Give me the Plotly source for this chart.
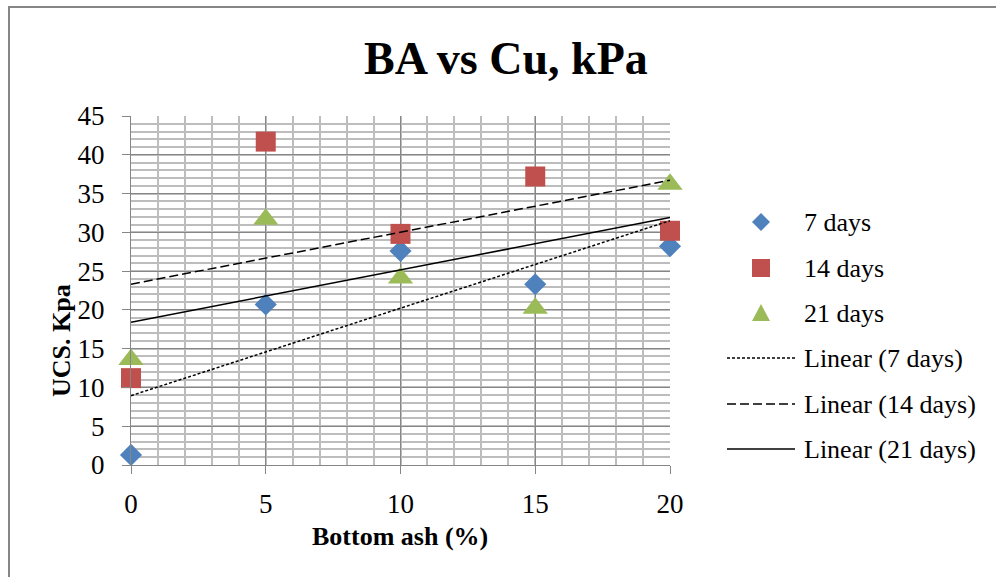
import numpy as np
import plotly.graph_objects as go

# ---- data ----
bottom_ash = [0, 5, 10, 15, 20]
ucs_7 = [1.3, 20.7, 27.6, 23.3, 28.2]
ucs_14 = [11.2, 41.7, 29.8, 37.2, 30.2]
ucs_21 = [13.6, 31.7, 24.1, 20.2, 36.2]
series_names = ["7 days", "14 days", "21 days"]
trend_names = ["Linear (7 days)", "Linear (14 days)", "Linear (21 days)"]
x_ticks = [0, 5, 10, 15, 20]
y_ticks = [0, 5, 10, 15, 20, 25, 30, 35, 40, 45]

FONT = "Liberation Serif"
colors = ["#4F81BD", "#C0504D", "#9BBB59"]
symbols = ["diamond", "square", "triangle-up"]
sizes = [17, 20, 22]
dashes = ["3px,2px", "9px,4px", "solid"]

fig = go.Figure()
all_series = [ucs_7, ucs_14, ucs_21]
for i, ys in enumerate(all_series):
    fig.add_trace(go.Scatter(
        x=bottom_ash, y=ys, mode="markers", name=series_names[i],
        marker=dict(symbol=symbols[i], size=sizes[i], color=colors[i],
                    line=dict(width=0)),
        cliponaxis=False, showlegend=False,
    ))
xs = np.array(bottom_ash, dtype=float)
for i, ys in enumerate(all_series):
    m, b = np.polyfit(xs, np.array(ys, dtype=float), 1)
    xl = np.array([min(bottom_ash), max(bottom_ash)], dtype=float)
    fig.add_trace(go.Scatter(
        x=xl, y=m * xl + b, mode="lines", name=trend_names[i],
        line=dict(color="black", width=1.5, dash=dashes[i]),
        showlegend=False,
    ))

L, R, T, B = 131, 670, 116, 465
W, H = 996, 577

def px_x(p):
    return (p - L) / (R - L)

def px_y(p):
    return (B - p) / (B - T)

axis_common = dict(
    showline=True, linecolor="#868686", linewidth=1,
    ticks="outside", ticklen=8, tickcolor="#868686", tickwidth=1,
    showgrid=True, gridcolor="#868686", gridwidth=1,
    zeroline=False,
    tickfont=dict(family=FONT, size=27, color="black"),
    minor=dict(dtick=1, showgrid=True, gridcolor="#bdbdbd", gridwidth=1.5, ticks=""),
)

annotations = [
    dict(text="<b>BA vs Cu, kPa</b>", xref="paper", yref="paper",
         x=px_x(506), y=px_y(58), xanchor="center", yanchor="middle",
         showarrow=False, font=dict(family=FONT, size=46, color="black")),
    dict(text="<b>Bottom ash (%)</b>", xref="paper", yref="paper",
         x=px_x(400), y=px_y(536), xanchor="center", yanchor="middle",
         showarrow=False, font=dict(family=FONT, size=26, color="black")),
    dict(text="<b>UCS. Kpa</b>", xref="paper", yref="paper",
         x=px_x(61), y=px_y(341), xanchor="center", yanchor="middle",
         textangle=-90, showarrow=False,
         font=dict(family=FONT, size=26, color="black")),
]
shapes = [
    dict(type="rect", xref="paper", yref="paper",
         x0=px_x(9), x1=px_x(1100), y0=px_y(700), y1=px_y(7),
         line=dict(color="#868686", width=2), fillcolor="rgba(0,0,0,0)",
         layer="below"),
]

# ---- custom legend (glyph positions in pixels) ----
leg_rows = [222, 268, 313, 358, 404, 449]
leg_text_x = 802
glyph_cx = 761
labels = series_names + trend_names
for k, yc in enumerate(leg_rows):
    annotations.append(dict(
        text=labels[k], xref="paper", yref="paper",
        x=px_x(leg_text_x), y=px_y(yc), xanchor="left", yanchor="middle",
        showarrow=False, font=dict(family=FONT, size=26, color="black")))

def path_px(points):
    return "M" + " L".join(f"{px_x(a):.5f},{px_y(b):.5f}" for a, b in points) + " Z"

yc = leg_rows[0]
shapes.append(dict(type="path", xref="paper", yref="paper",
                   path=path_px([(glyph_cx - 9, yc), (glyph_cx, yc - 9),
                                 (glyph_cx + 9, yc), (glyph_cx, yc + 9)]),
                   fillcolor=colors[0], line=dict(width=0)))
yc = leg_rows[1]
shapes.append(dict(type="path", xref="paper", yref="paper",
                   path=path_px([(glyph_cx - 9, yc - 9), (glyph_cx + 9, yc - 9),
                                 (glyph_cx + 9, yc + 9), (glyph_cx - 9, yc + 9)]),
                   fillcolor=colors[1], line=dict(width=0)))
yc = leg_rows[2]
shapes.append(dict(type="path", xref="paper", yref="paper",
                   path=path_px([(glyph_cx - 9, yc + 8), (glyph_cx + 9, yc + 8),
                                 (glyph_cx, yc - 9)]),
                   fillcolor=colors[2], line=dict(width=0)))
for i in range(3):
    yc = leg_rows[3 + i]
    shapes.append(dict(type="line", xref="paper", yref="paper",
                       x0=px_x(727), x1=px_x(795), y0=px_y(yc), y1=px_y(yc),
                       line=dict(color="black", width=1.5, dash=dashes[i])))

fig.update_layout(
    width=W, height=H,
    margin=dict(l=L, r=W - R, t=T, b=H - B, pad=0),
    paper_bgcolor="white", plot_bgcolor="white",
    showlegend=False,
    xaxis=dict(range=[0, 20], tickvals=x_ticks, ticklabelstandoff=7, **axis_common),
    yaxis=dict(range=[0, 45], tickvals=y_ticks, ticklabelstandoff=12, **axis_common),
    annotations=annotations,
    shapes=shapes,
)

fig.write_html("out.html")
